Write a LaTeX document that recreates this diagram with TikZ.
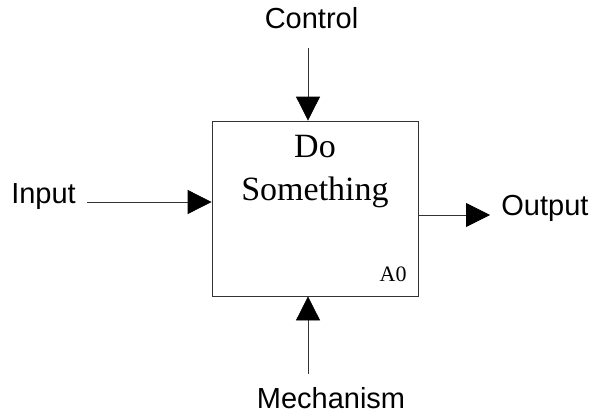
\documentclass[tikz,border=0pt]{standalone}
\usepackage{fontspec}
\setmainfont{Liberation Serif}
\newfontfamily\labelfont{Liberation Sans}
\usetikzlibrary{arrows.meta,positioning}

\begin{document}
\begin{tikzpicture}[x=1pt,y=-1pt,>={Triangle[length=24pt,width=24pt,color=black]},line width=0.8pt,
    activity/.style={draw=black!80,minimum width=206pt,minimum height=175pt,inner sep=0pt},
    lbl/.style={font=\labelfont\fontsize{29}{35}\selectfont,inner sep=0pt,anchor=base},
    flow/.style={->,draw=black!80}]
      \useasboundingbox (0,0) rectangle (593,415);

      \node[activity] (a0) at (315,208.5) {};
      \node[align=center,inner sep=0pt,anchor=north,font=\fontsize{34}{43}\selectfont]
        (title) at (315,135) {Do\\Something};
      \node[inner sep=0pt,anchor=base east,font=\fontsize{22}{26}\selectfont]
        (num) at (407,281) {A0};

      \node[lbl] (ctrl) at (311.5,28) {Control};
      \node[lbl] (in) at (43.5,203) {Input};
      \node[lbl,anchor=base west] (out) at (501,215) {Output};
      \node[lbl] (mech) at (331,408) {Mechanism};

      \coordinate (c0) at (308,48);
      \coordinate (i0) at (87,202);
      \coordinate (o0) at (490,215);
      \coordinate (m0) at (308,374);

      \path
      (c0) edge[flow] (c0 |- a0.north)
      (i0) edge[flow] (i0 -| a0.west)
      (o0 -| a0.east) edge[flow] (o0)
      (m0) edge[flow] (m0 |- a0.south)
      ;
    \end{tikzpicture}
\end{document}
